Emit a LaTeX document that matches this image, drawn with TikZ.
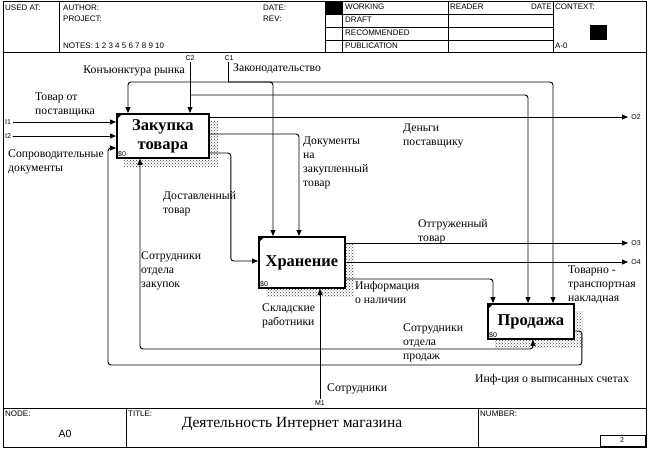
\documentclass[tikz,border=0pt]{standalone}
\usepackage{fontspec}
\setmainfont{Liberation Serif}
\setsansfont{Liberation Sans}
\usetikzlibrary{calc}
\usetikzlibrary{arrows.meta,patterns,backgrounds}

\begin{document}
\begin{tikzpicture}[x=1pt,y=-1pt,
  link/.style={line width=0.9pt, rounded corners=3pt},
  arr/.style={link, -{Triangle[length=6pt,width=5pt]}},
  blok/.style={draw, line width=1.8pt, fill=white, anchor=north west, inner sep=0pt, align=center, font=\fontsize{16.5}{19}\selectfont\bfseries},
  lbl/.style={anchor=base west, align=left, inner sep=0pt, font=\fontsize{11.7}{14}\selectfont},
  hd/.style={anchor=west, inner sep=0pt, font=\sffamily\fontsize{8}{9}\selectfont},
  tag/.style={inner sep=0pt, font=\sffamily\fontsize{7}{8}\selectfont}]
\useasboundingbox (0,0) rectangle (651,450);
\draw[line width=0.8pt] (3,1) rectangle (646,447);
\draw (3,52) -- (646,52) (3,408) -- (646,408);
\foreach \x in {59,325,342,448,553} \draw (\x,1) -- (\x,52);
\foreach \y in {14,27,40} \draw (325,\y) -- (553,\y);
\draw (126,408) -- (126,447) (478,408) -- (478,447);
\fill (325,1) rectangle (342,14);
\fill (590,25) rectangle (607,40);
\draw (600,435) rectangle (645,446);
\node[hd] (usedat) at (5,8) {USED AT:};
\node[hd] (author) at (63,8) {AUTHOR:};
\node[hd] (project) at (63,19) {PROJECT:};
\node[hd] (notes) at (63,46) {NOTES: 1 2 3 4 5 6 7 8 9 10};
\node[hd] (date) at (263,8) {DATE:};
\node[hd] (rev) at (263,19) {REV:};
\node[hd] (working) at (345,7) {WORKING};
\node[hd] (draft) at (345,20) {DRAFT};
\node[hd] (recom) at (345,33) {RECOMMENDED};
\node[hd] (public) at (345,46) {PUBLICATION};
\node[hd] (reader) at (450,7) {READER};
\node[hd, anchor=east] (rdate) at (552,7) {DATE};
\node[hd] (context) at (555,7) {CONTEXT:};
\node[hd] (azero) at (555,46) {A-0};
\node[hd] (nodelbl) at (5,414) {NODE:};
\node[hd] (titlelbl) at (128,414) {TITLE:};
\node[hd] (numlbl) at (480,414) {NUMBER:};
\node[inner sep=0pt, font=\sffamily\fontsize{10.5}{12}\selectfont] (nodenum) at (65,434) {A0};
\node[inner sep=0pt, font=\fontsize{15.5}{18}\selectfont] (title) at (292,424) {Деятельность Интернет магазина};
\node[tag] (pagenum) at (622,440) {2};

\node[blok, minimum width=92pt, minimum height=44pt] (zak) at (116,113) {Закупка\\товара};
\node[blok, minimum width=86pt, minimum height=51pt] (hran) at (258,236) {Хранение};
\node[blok, minimum width=86pt, minimum height=35pt] (prod) at (487,303) {Продажа};
\begin{scope}[on background layer]
\foreach \b in {zak,hran,prod}
  \fill[pattern=crosshatch dots, pattern color=black!75] ($(\b.north west)+(8,8)$) rectangle ($(\b.south east)+(8,8)$);
\end{scope}
\foreach \b in {zak,hran,prod} {
  \fill (\b.north west) -- ++(7,0) -- ++(-7,7) -- cycle;
  \node[tag, anchor=south west] at ($(\b.south west)+(2,-2)$) {\$0};
}

\coordinate (c1) at (228,62);
\coordinate (c1j) at (228,82);
\coordinate (c2) at (190,62);
\coordinate (c2j) at (190,95);
\coordinate (m1) at (320,399);
\coordinate (m1j) at (320,349);
\coordinate (i1) at (13,122);
\coordinate (i2) at (13,136);
\coordinate (o2) at (628,117);
\coordinate (o3) at (628,243);
\coordinate (o4) at (628,262);
\coordinate (fb) at (108,365);
\node[tag] (c1t) at (229,58) {C1};
\node[tag] (c2t) at (190,58) {C2};
\node[tag] (m1t) at (320,403) {M1};
\node[tag] (i1t) at (8,122) {I1};
\node[tag] (i2t) at (8,136) {I2};
\node[tag] (o2t) at (636,117) {O2};
\node[tag] (o3t) at (636,243) {O3};
\node[tag] (o4t) at (636,262) {O4};

\draw[link] (c1) -- (c1j);
\draw[arr] (c1j) -| ($(zak.north west)+(12,0)$);
\draw[arr] (c1j) -| ($(hran.north west)+(15,0)$);
\draw[arr] (c1j) -| ($(prod.north west)+(66,0)$);
\draw[arr] (c2) -- ($(zak.north west)+(74,0)$);
\draw[arr] (c2j) -| ($(prod.north west)+(41,0)$);
\draw[arr] (i1) -- ($(zak.north west)+(0,9)$);
\draw[arr] (i2) -- ($(zak.north west)+(0,23)$);
\draw[arr] ($(zak.north east)+(0,4)$) -- (o2);
\draw[arr] ($(zak.north east)+(0,21)$) -| ($(hran.north west)+(41,0)$);
\draw[arr] ($(zak.north east)+(0,40)$) -- ++(21,0) |- ($(hran.north west)+(0,25)$);
\draw[arr] ($(hran.north east)+(0,7)$) -- (o3);
\draw[arr] ($(hran.north east)+(0,26)$) -- (o4);
\draw[arr] ($(hran.north east)+(0,43)$) -| ($(prod.north west)+(6,0)$);
\draw[arr] ($(prod.north east)+(0,28)$) -- ++(7,0) |- (fb) |- ($(zak.north west)+(0,35)$);
\draw[arr] (m1) -- ($(hran.south west)+(62,0)$);
\draw[arr] (m1j) -| ($(zak.south west)+(24,0)$);
\draw[arr] (m1j) -| ($(prod.south west)+(46,0)$);

\node[lbl] (tovpost) at (35,114) {Товар от\\поставщика};
\node[lbl, anchor=base east] (konj) at (185,73) {Конъюнктура рынка};
\node[lbl] (zakon) at (233,71) {Законодательство};
\node[lbl] (soprov) at (8,171) {Сопроводительные\\документы};
\node[lbl] (dengi) at (403,145) {Деньги\\поставщику};
\node[lbl] (dokum) at (303,186) {Документы\\на\\закупленный\\товар};
\node[lbl] (dostav) at (163,213) {Доставленный\\товар};
\node[lbl] (sotrz) at (141,287) {Сотрудники\\отдела\\закупок};
\node[lbl] (sklad) at (262,325) {Складские\\работники};
\node[lbl] (sotr) at (327,391) {Сотрудники};
\node[lbl] (otgr) at (418,241) {Отгруженный\\товар};
\node[lbl] (ttn) at (568,301) {Товарно -\\транспортная\\накладная};
\node[lbl] (info) at (355,303) {Информация\\о наличии};
\node[lbl] (sotrp) at (403,359) {Сотрудники\\отдела\\продаж};
\node[lbl] (inf) at (475,382) {Инф-ция о выписанных счетах};
\end{tikzpicture}
\end{document}
